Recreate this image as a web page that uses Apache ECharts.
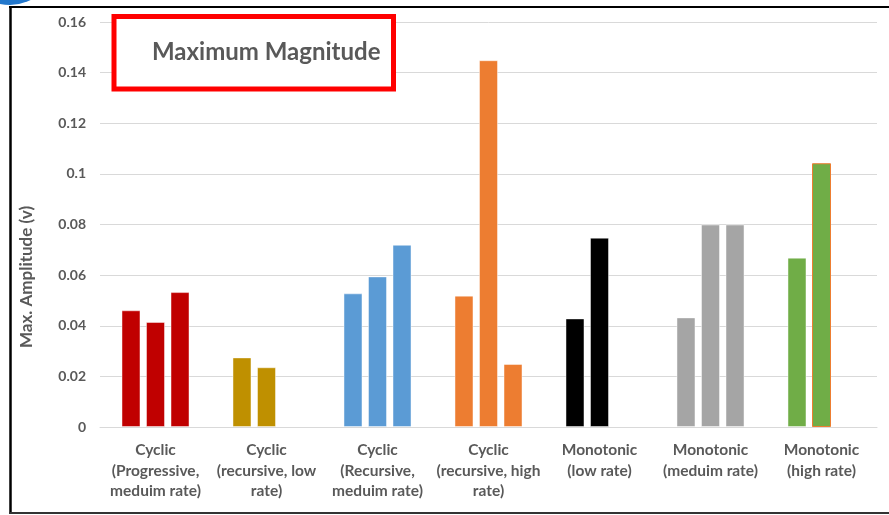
<!DOCTYPE html>
<html>
<head>
<meta charset="utf-8">
<script src="https://cdn.jsdelivr.net/npm/echarts@6/dist/echarts.min.js"></script>
<style>
html,body{margin:0;padding:0;background:#fff;}
#c{width:889px;height:515px;}
</style>
</head>
<body>
<div id="c"></div>
<script>
const categories = [
  "Cyclic\n(Progressive,\nmeduim rate)",
  "Cyclic\n(recursive, low\nrate)",
  "Cyclic\n(Recursive,\nmeduim rate)",
  "Cyclic\n(recursive, high\nrate)",
  "Monotonic\n(low rate)",
  "Monotonic\n(meduim rate)",
  "Monotonic\n(high rate)"
];
const barA = [0.0461, 0.0275, 0.0528, 0.0519, 0.0429, 0.0433, 0.0669];
const barB = [0.0415, 0.0236, 0.0595, 0.1449, 0.0748, 0.0800, 0.1042];
const barC = [0.0533, null, 0.0720, 0.0249, null, 0.0800, null];
const categoryColors = ["#C00000", "#BF9000", "#5B9BD5", "#ED7D31", "#000000", "#A5A5A5", "#70AD47"];
const yTicks = { min: 0, max: 0.16, interval: 0.02 };
const chartTitle = "Maximum Magnitude";
const yName = "Max. Amplitude (v)";

const FONT = "Lato";
const TXT = "#595959";

function mk(values, idx) {
  return values.map((v, i) => {
    if (v === null) return "-";
    const item = { value: v, itemStyle: { color: categoryColors[i] } };
    if (idx === 1 && i === 6) {
      item.itemStyle.borderColor = "#ED7D31";
      item.itemStyle.borderWidth = 1;
    }
    return item;
  });
}

const chart = echarts.init(document.getElementById("c"));
const baseSeries = {
  type: "bar",
  barWidth: 19,
  barGap: "29%",
  itemStyle: { borderColor: "rgba(255,255,255,0.45)", borderWidth: 1 },
  emphasis: { disabled: true },
  animation: false
};
chart.setOption({
  animation: false,
  grid: { left: 100, right: 12, top: 22, bottom: 88, containLabel: false },
  xAxis: {
    type: "category",
    data: categories,
    axisLine: { show: true, lineStyle: { color: "#D9D9D9", width: 1 } },
    axisTick: { show: false },
    axisLabel: {
      interval: 0,
      margin: 13,
      fontFamily: FONT,
      fontWeight: "bold",
      fontSize: 15.5,
      lineHeight: 20.5,
      color: TXT
    }
  },
  yAxis: {
    type: "value",
    min: yTicks.min,
    max: yTicks.max,
    interval: yTicks.interval,
    axisLine: { show: false },
    axisTick: { show: false },
    splitLine: { lineStyle: { color: "#D9D9D9", width: 1 } },
    axisLabel: {
      margin: 14,
      fontFamily: FONT,
      fontWeight: "bold",
      fontSize: 14,
      color: TXT
    }
  },
  series: [
    Object.assign({}, baseSeries, { name: "A", data: mk(barA, 0) }),
    Object.assign({}, baseSeries, { name: "B", data: mk(barB, 1) }),
    Object.assign({}, baseSeries, { name: "C", data: mk(barC, 2) })
  ],
  graphic: [
    { type: "line", shape: { x1: 9, y1: 7, x2: 889, y2: 7 }, style: { stroke: "#000", lineWidth: 2 }, z: 10 },
    { type: "line", shape: { x1: 10.5, y1: 7, x2: 10.5, y2: 513 }, style: { stroke: "#000", lineWidth: 2.5 }, z: 10 },
    { type: "line", shape: { x1: 9, y1: 513, x2: 889, y2: 513 }, style: { stroke: "#333", lineWidth: 2 }, z: 10 },
    { type: "circle", shape: { cx: 10, cy: -40, r: 45 }, style: { fill: "#2277CC" }, z: 11 },
    { type: "rect", shape: { x: 114, y: 16.5, width: 279.5, height: 72.5 }, style: { fill: "#fff", stroke: "#FF0000", lineWidth: 5 }, z: 20 },
    { type: "text", x: 152, y: 52, style: { text: chartTitle, fill: TXT, font: "bold 24px Lato", textVerticalAlign: "middle", textAlign: "left" }, z: 21 },
    { type: "text", x: 27, y: 277, rotation: Math.PI / 2, style: { text: yName, fill: TXT, font: "bold 17px Lato", textVerticalAlign: "middle", textAlign: "center" }, z: 21 }
  ]
});
</script>
</body>
</html>
